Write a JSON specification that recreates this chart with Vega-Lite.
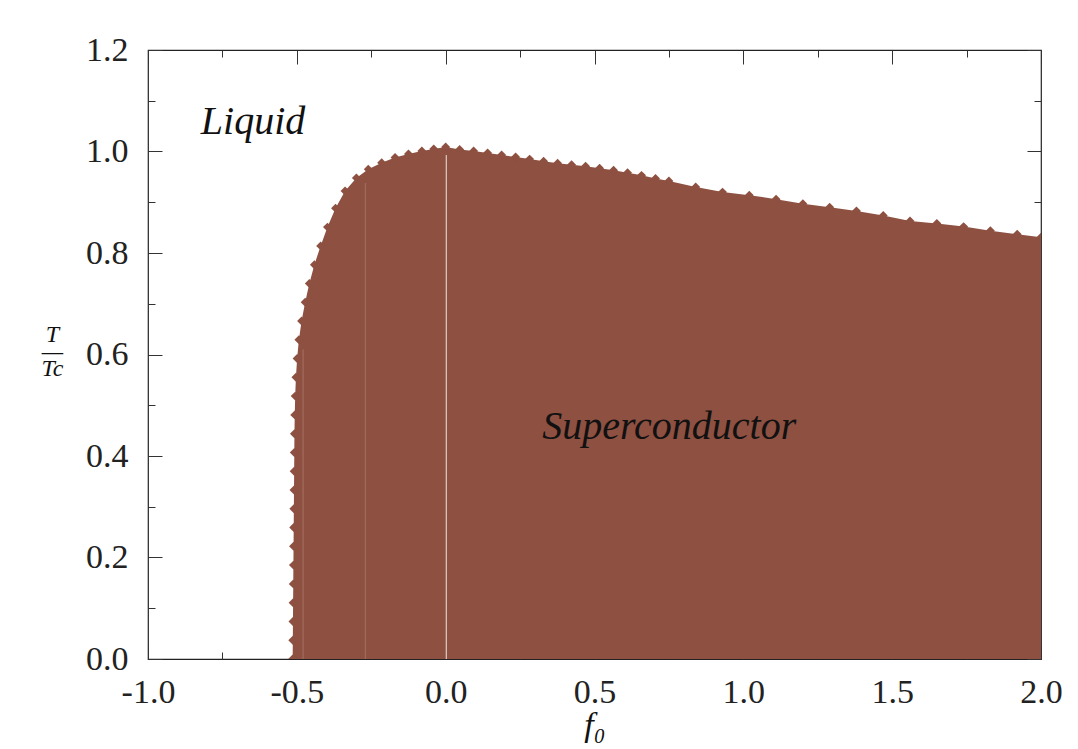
{
  "$schema": "https://vega.github.io/schema/vega-lite/v6.json",
  "width": 893,
  "height": 609,
  "autosize": {"type": "none"},
  "padding": {"left": 148, "top": 50, "right": 37, "bottom": 90},
  "background": "white",
  "config": {
    "view": {"stroke": "#222", "strokeWidth": 1.2},
    "axis": {
      "grid": false,
      "domain": false,
      "labelFont": "Liberation Serif",
      "labelFontSize": 34,
      "labelColor": "#222",
      "tickColor": "#333",
      "tickWidth": 1,
      "titleFont": "Liberation Serif",
      "titleColor": "#111",
      "titleFontWeight": "normal",
      "titleFontStyle": "italic"
    }
  },
  "datasets": {
    "boundary": [
      {"f0": -0.514, "T": 0.0},
      {"f0": -0.5135, "T": 0.037},
      {"f0": -0.513, "T": 0.074},
      {"f0": -0.5125, "T": 0.111},
      {"f0": -0.512, "T": 0.148},
      {"f0": -0.5115, "T": 0.185},
      {"f0": -0.511, "T": 0.222},
      {"f0": -0.5105, "T": 0.259},
      {"f0": -0.51, "T": 0.296},
      {"f0": -0.5095, "T": 0.333},
      {"f0": -0.509, "T": 0.37},
      {"f0": -0.5085, "T": 0.407},
      {"f0": -0.508, "T": 0.444},
      {"f0": -0.507, "T": 0.481},
      {"f0": -0.5055, "T": 0.518},
      {"f0": -0.503, "T": 0.555},
      {"f0": -0.499, "T": 0.592},
      {"f0": -0.493, "T": 0.629},
      {"f0": -0.484, "T": 0.666},
      {"f0": -0.472, "T": 0.703},
      {"f0": -0.458, "T": 0.74},
      {"f0": -0.441, "T": 0.777},
      {"f0": -0.42, "T": 0.814},
      {"f0": -0.397, "T": 0.851},
      {"f0": -0.37, "T": 0.888},
      {"f0": -0.338, "T": 0.922},
      {"f0": -0.3, "T": 0.948},
      {"f0": -0.26, "T": 0.965},
      {"f0": -0.215, "T": 0.978},
      {"f0": -0.17, "T": 0.988},
      {"f0": -0.125, "T": 0.995},
      {"f0": -0.08, "T": 1.001},
      {"f0": -0.04, "T": 1.005},
      {"f0": 0.0, "T": 1.009},
      {"f0": 0.047, "T": 1.004},
      {"f0": 0.094, "T": 1.001},
      {"f0": 0.141, "T": 0.997},
      {"f0": 0.188, "T": 0.993},
      {"f0": 0.235, "T": 0.989},
      {"f0": 0.282, "T": 0.985},
      {"f0": 0.329, "T": 0.981},
      {"f0": 0.376, "T": 0.977},
      {"f0": 0.423, "T": 0.974},
      {"f0": 0.47, "T": 0.971},
      {"f0": 0.517, "T": 0.967},
      {"f0": 0.564, "T": 0.963},
      {"f0": 0.611, "T": 0.958},
      {"f0": 0.658, "T": 0.953},
      {"f0": 0.705, "T": 0.947},
      {"f0": 0.75, "T": 0.942},
      {"f0": 0.84, "T": 0.93},
      {"f0": 0.93, "T": 0.92},
      {"f0": 1.02, "T": 0.914},
      {"f0": 1.11, "T": 0.906},
      {"f0": 1.2, "T": 0.897},
      {"f0": 1.29, "T": 0.89},
      {"f0": 1.38, "T": 0.883},
      {"f0": 1.47, "T": 0.874},
      {"f0": 1.56, "T": 0.863},
      {"f0": 1.65, "T": 0.858},
      {"f0": 1.74, "T": 0.852},
      {"f0": 1.83, "T": 0.844},
      {"f0": 1.92, "T": 0.837},
      {"f0": 2.0, "T": 0.831}
    ],
    "seams": [
      {"f0": -0.479, "top": 0.61, "bottom": 0, "kind": "faint"},
      {"f0": -0.27, "top": 0.938, "bottom": 0, "kind": "faint"},
      {"f0": 0.002, "top": 0.993, "bottom": 0, "kind": "bright"}
    ],
    "labels": [
      {"f0": -0.647, "T": 1.034, "text": "Liquid"},
      {"f0": 0.751, "T": 0.4335, "text": "Superconductor"}
    ]
  },
  "layer": [
    {
      "data": {"name": "boundary"},
      "mark": {"type": "area", "color": "#8d5041", "opacity": 1, "interpolate": "linear"},
      "encoding": {
        "x": {
          "field": "f0", "type": "quantitative",
          "scale": {"domain": [-1, 2], "nice": false, "zero": false},
          "axis": {
            "orient": "bottom", "values": [-1, -0.5, 0, 0.5, 1, 1.5, 2],
            "tickSize": 14, "offset": -14, "labelPadding": 16, "labelFlush": false,
            "labelExpr": "replace(format(datum.value, '.1f'), '\u2212', '-')",
            "title": "f\u2080", "titleFontSize": 34, "titleY": 90, "titleBaseline": "alphabetic"
          }
        },
        "y": {
          "field": "T", "type": "quantitative",
          "scale": {"domain": [0, 1.2], "nice": false, "zero": false},
          "axis": {
            "orient": "left", "values": [0, 0.2, 0.4, 0.6, 0.8, 1, 1.2],
            "tickSize": 14, "offset": -14, "labelPadding": 20, "labelFlush": false,
            "labelExpr": "format(datum.value, '.1f')",
            "title": ["T", "\u2014", "Tc"], "titleAngle": 0, "titleX": -110, "titleY": 284,
            "titleAlign": "center", "titleBaseline": "middle", "titleFontSize": 24, "titleLineHeight": 17
          }
        }
      }
    },
    {
      "data": {"name": "boundary"},
      "mark": {"type": "point", "shape": "diamond", "filled": true, "color": "#8d5041", "opacity": 1, "size": 80, "strokeWidth": 0, "clip": true},
      "encoding": {
        "x": {
          "field": "f0", "type": "quantitative",
          "scale": {"domain": [-1, 2], "nice": false, "zero": false},
          "axis": {"orient": "bottom", "values": [-0.75, -0.25, 0.25, 0.75, 1.25, 1.75], "tickSize": 7, "offset": -7, "labels": false, "title": null}
        },
        "y": {
          "field": "T", "type": "quantitative",
          "scale": {"domain": [0, 1.2], "nice": false, "zero": false},
          "axis": {"orient": "left", "values": [0.1, 0.3, 0.5, 0.7, 0.9, 1.1], "tickSize": 7, "offset": -7, "labels": false, "title": null}
        }
      }
    },
    {
      "data": {"name": "seams"},
      "mark": {"type": "rule", "strokeWidth": 1},
      "encoding": {
        "x": {
          "field": "f0", "type": "quantitative",
          "scale": {"domain": [-1, 2], "nice": false, "zero": false},
          "axis": {"orient": "top", "values": [-1, -0.5, 0, 0.5, 1, 1.5, 2], "tickSize": 14, "offset": -14, "labels": false, "title": null}
        },
        "y": {
          "field": "top", "type": "quantitative",
          "scale": {"domain": [0, 1.2], "nice": false, "zero": false},
          "axis": {"orient": "right", "values": [0, 0.2, 0.4, 0.6, 0.8, 1, 1.2], "tickSize": 14, "offset": -14, "labels": false, "title": null}
        },
        "y2": {"field": "bottom"},
        "color": {"field": "kind", "type": "nominal", "scale": {"domain": ["faint", "bright"], "range": ["#a57262", "#f0e4e0"]}, "legend": null}
      }
    },
    {
      "data": {"name": "labels"},
      "mark": {"type": "text", "font": "Liberation Serif", "fontStyle": "italic", "fontSize": 40, "color": "#111", "align": "center", "baseline": "alphabetic"},
      "encoding": {
        "x": {
          "field": "f0", "type": "quantitative",
          "scale": {"domain": [-1, 2], "nice": false, "zero": false},
          "axis": {"orient": "top", "values": [-0.75, -0.25, 0.25, 0.75, 1.25, 1.75], "tickSize": 7, "offset": -7, "labels": false, "title": null}
        },
        "y": {
          "field": "T", "type": "quantitative",
          "scale": {"domain": [0, 1.2], "nice": false, "zero": false},
          "axis": {"orient": "right", "values": [0.1, 0.3, 0.5, 0.7, 0.9, 1.1], "tickSize": 7, "offset": -7, "labels": false, "title": null}
        },
        "text": {"field": "text"}
      }
    }
  ],
  "resolve": {"axis": {"x": "independent", "y": "independent"}}
}
